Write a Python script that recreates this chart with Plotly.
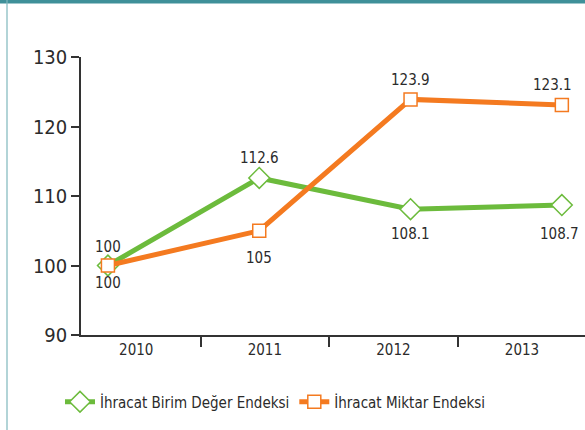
import plotly.graph_objects as go

YEARS = ["2010", "2011", "2012", "2013"]
YEAR_NUM = [2010, 2011, 2012, 2013]
BIRIM_DEGER = [100, 112.6, 108.1, 108.7]
MIKTAR = [100, 105, 123.9, 123.1]
NAME_BIRIM = "İhracat Birim Değer Endeksi"
NAME_MIKTAR = "İhracat Miktar Endeksi"
Y_TICKS = [90, 100, 110, 120, 130]

GREEN = "#6cbb3c"
ORANGE = "#f47a20"
TEAL = "#3f9099"
AXIS = "#333333"
TEXT = "#2b2b2b"
FONT = "DejaVu Sans Condensed, Liberation Sans Narrow, Roboto, sans-serif"

W, H = 585, 430
L, R, T, B = 81, 0, 57, 95
PW, PH = W - L - R, H - T - B

# label placement (pixel shifts relative to each point)
BIRIM_SHIFT_Y = [19, 20, -25, -29]
BIRIM_SHIFT_X = [0, 0, 0, -2]
MIKTAR_SHIFT_Y = [-17, -27, 19, 20]
MIKTAR_SHIFT_X = [0, 0, 0, -9]


def px_x(p):
    return (p - L) / PW


def px_y(p):
    return (H - B - p) / PH


fig = go.Figure()
fig.add_trace(go.Scatter(
    x=YEAR_NUM, y=BIRIM_DEGER, name=NAME_BIRIM, mode="lines+markers",
    line=dict(color=GREEN, width=5),
    marker=dict(symbol="diamond", size=16, color="white", line=dict(color=GREEN, width=1.5)),
    cliponaxis=False,
))
fig.add_trace(go.Scatter(
    x=YEAR_NUM, y=MIKTAR, name=NAME_MIKTAR, mode="lines+markers",
    line=dict(color=ORANGE, width=5),
    marker=dict(symbol="square", size=13, color="white", line=dict(color=ORANGE, width=1.5)),
    cliponaxis=False,
))

annotations = []
for xs, ys, dx, dy in [(YEAR_NUM, BIRIM_DEGER, BIRIM_SHIFT_X, BIRIM_SHIFT_Y),
                       (YEAR_NUM, MIKTAR, MIKTAR_SHIFT_X, MIKTAR_SHIFT_Y)]:
    for xv, yv, sx, sy in zip(xs, ys, dx, dy):
        annotations.append(dict(
            x=xv, y=yv, xref="x", yref="y", text=str(yv), showarrow=False,
            xshift=sx, yshift=sy, xanchor="center", yanchor="middle",
            font=dict(family=FONT, size=15, color=TEXT),
        ))

fig.update_layout(
    width=W, height=H,
    margin=dict(l=L, r=R, t=T, b=B, autoexpand=False),
    paper_bgcolor="white", plot_bgcolor="white",
    font=dict(family=FONT, color=TEXT),
    showlegend=True,
    legend=dict(orientation="h", x=px_x(60), xanchor="left", y=px_y(402), yanchor="middle",
                font=dict(family=FONT, size=15, color=TEXT),
                itemwidth=30, tracegroupgap=0, bgcolor="rgba(0,0,0,0)"),
    xaxis=dict(visible=False, range=[2009.822, 2013.153], fixedrange=True),
    xaxis2=dict(overlaying="x", side="bottom", range=[-0.43, 3.49],
                tickmode="array", tickvals=[0, 1, 2, 3], ticktext=YEARS,
                ticks="", showgrid=False, zeroline=False,
                showline=True, linecolor=AXIS, linewidth=1.5,
                tickfont=dict(family=FONT, size=15, color=TEXT),
                minor=dict(ticks="outside", tickmode="array", tickvals=[0.5, 1.5, 2.5],
                           ticklen=10, tickwidth=1.5, tickcolor=AXIS, showgrid=False)),
    yaxis=dict(range=[90, 130], tickvals=Y_TICKS, ticks="outside", ticklen=8,
               tickwidth=1.5, tickcolor=AXIS, showline=True, linecolor=AXIS, linewidth=1.5,
               showgrid=False, zeroline=False,
               tickfont=dict(family=FONT, size=20, color=TEXT)),
    annotations=annotations,
    shapes=[
        dict(type="rect", xref="paper", yref="paper", x0=px_x(0), x1=px_x(W),
             y0=px_y(3.5), y1=px_y(0), fillcolor=TEAL, line=dict(width=0), layer="above"),
        dict(type="line", xref="paper", yref="paper", x0=px_x(7), x1=px_x(7),
             y0=px_y(H), y1=px_y(0), line=dict(color="#7fb7bd", width=1.2)),
    ],
)
# dummy trace to activate xaxis2
fig.add_trace(go.Scatter(x=[0], y=[None], xaxis="x2", showlegend=False, hoverinfo="skip"))

fig.write_html("out.html", config={"displayModeBar": False},
               post_script="document.body.style.margin='0';document.body.style.overflow='hidden';")
